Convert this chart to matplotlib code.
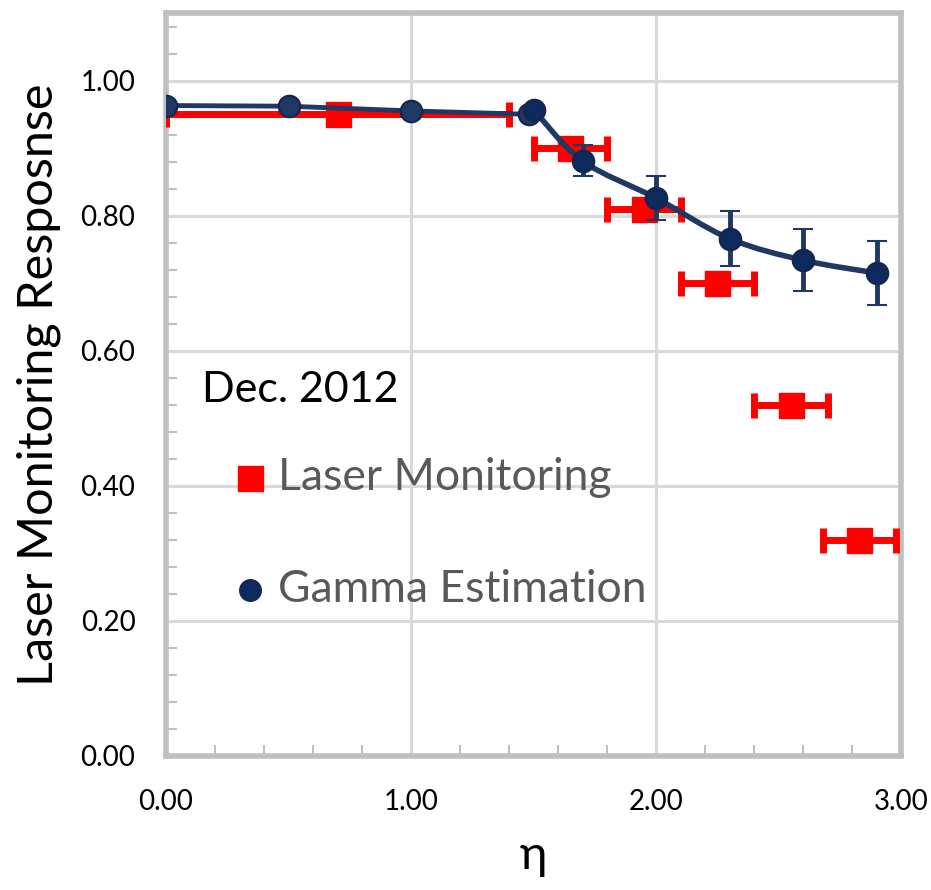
import matplotlib.pyplot as plt
import numpy as np
from matplotlib.path import Path
from matplotlib.patches import PathPatch
from matplotlib.ticker import MultipleLocator, FormatStrFormatter

plt.rcParams['font.family'] = ['Lato', 'DejaVu Sans']

# Laser monitoring response (red squares, horizontal bin widths)
laser_eta = [0.70, 1.65, 1.95, 2.25, 2.55, 2.83]
laser_resp = [0.950, 0.900, 0.810, 0.700, 0.520, 0.320]
laser_xerr = [0.70, 0.15, 0.15, 0.15, 0.15, 0.15]

# Gamma estimation, barrel part (straight segments)
gamma_eta_eb = [0.0, 0.5, 1.0, 1.48]
gamma_resp_eb = [0.963, 0.962, 0.955, 0.950]

# Gamma estimation, endcap part (smoothed line with error bars)
gamma_eta_ee = [1.50, 1.70, 2.00, 2.30, 2.60, 2.90]
gamma_resp_ee = [0.957, 0.881, 0.826, 0.766, 0.734, 0.715]
gamma_err_ee = [0.0, 0.023, 0.032, 0.041, 0.046, 0.048]

red = '#ff0000'
navy = '#1f3864'
navy_dark = '#0d2a5e'
grey = '#c0c0c0'


def smooth_path(xs, ys):
    # Catmull-Rom style bezier through the points (same idea as a spreadsheet "smoothed line")
    pts = np.column_stack([xs, ys])
    n = len(pts)
    verts = [pts[0]]
    codes = [Path.MOVETO]
    for i in range(n - 1):
        p0 = pts[max(i - 1, 0)]
        p1 = pts[i]
        p2 = pts[i + 1]
        p3 = pts[min(i + 2, n - 1)]
        c1 = p1 + (p2 - p0) / 6.0
        c2 = p2 - (p3 - p1) / 6.0
        verts += [c1, c2, p2]
        codes += [Path.CURVE4] * 3
    return Path(verts, codes)


fig = plt.figure(figsize=(9.31, 8.9), dpi=100)
ax = fig.add_axes([0.1783, 0.1506, 0.7895, 0.8348])

ax.set_xlim(0, 3.0)
ax.set_ylim(0, 1.10)

ax.xaxis.set_major_locator(MultipleLocator(1.0))
ax.xaxis.set_minor_locator(MultipleLocator(0.2))
ax.yaxis.set_major_locator(MultipleLocator(0.2))
ax.yaxis.set_minor_locator(MultipleLocator(0.04))
ax.xaxis.set_major_formatter(FormatStrFormatter('%.2f'))
ax.yaxis.set_major_formatter(FormatStrFormatter('%.2f'))

ax.grid(True, which='major', color='#d9d9d9', linewidth=2.2, zorder=0)
ax.set_axisbelow(True)
for s in ax.spines.values():
    s.set_color(grey)
    s.set_linewidth(4)

ax.tick_params(which='both', direction='in', color=grey, width=1.5,
               labelsize=20, labelcolor='black')
ax.tick_params(which='major', length=0)
ax.tick_params(which='minor', length=8)
ax.tick_params(axis='y', which='major', pad=22)
ax.tick_params(axis='x', which='major', pad=24)

# laser monitoring points
ax.errorbar(laser_eta, laser_resp, xerr=laser_xerr, fmt='s', color=red,
            markersize=18, elinewidth=5, capsize=9, capthick=5, zorder=3)

# gamma estimation, barrel
ax.plot(gamma_eta_eb, gamma_resp_eb, '-o', color=navy, linewidth=3.5,
        markersize=15.5, markerfacecolor=navy, markeredgecolor='#15264a',
        markeredgewidth=1.5, zorder=4)

# gamma estimation, endcap
ax.add_patch(PathPatch(smooth_path(gamma_eta_ee, gamma_resp_ee), fill=False,
                       edgecolor=navy, linewidth=4, zorder=4))
ax.errorbar(gamma_eta_ee, gamma_resp_ee, yerr=gamma_err_ee, fmt='o',
            color=navy, markersize=15.5, markerfacecolor=navy_dark,
            markeredgecolor='#15264a', markeredgewidth=1.5,
            elinewidth=3.5, capsize=7, capthick=3.5, zorder=5)

ax.set_xlabel('η', fontsize=34, labelpad=14)
ax.set_ylabel('Laser Monitoring Resposnse', fontsize=35, labelpad=14)

# annotation and hand-placed legend
ax.text(0.148, 0.542, 'Dec. 2012', fontsize=31, color='black', va='center')
ax.plot([0.344], [0.412], 's', color=red, markersize=18, zorder=6)
ax.text(0.459, 0.412, 'Laser Monitoring', fontsize=32, color='#595959', va='center')
ax.plot([0.344], [0.246], 'o', color=navy, markerfacecolor=navy_dark,
        markeredgecolor='#15264a', markersize=15.5, zorder=6)
ax.text(0.459, 0.246, 'Gamma Estimation', fontsize=32, color='#595959', va='center')

fig.savefig('out.png', dpi=100)
